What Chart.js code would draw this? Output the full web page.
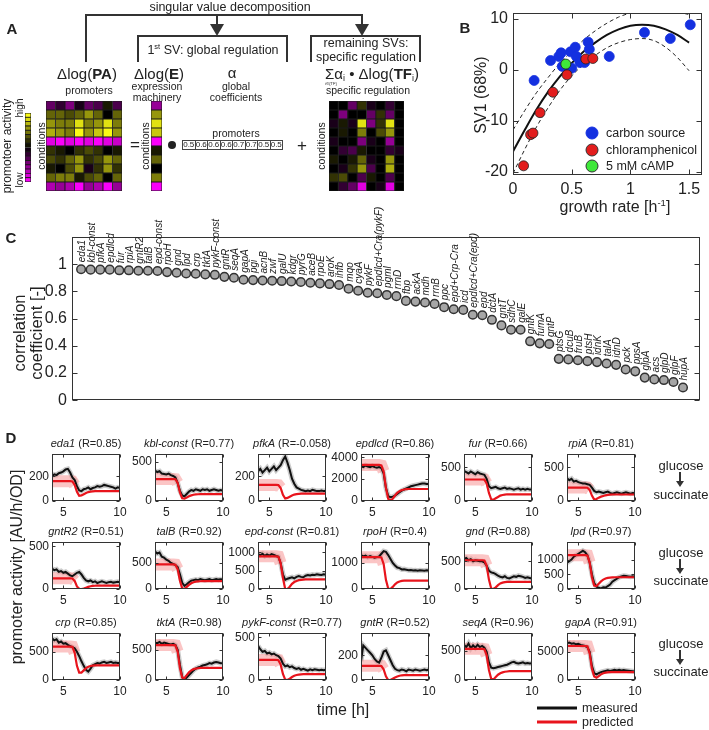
<!DOCTYPE html>
<html><head><meta charset="utf-8">
<script src="https://cdn.jsdelivr.net/npm/chart.js@4.4.0/dist/chart.umd.min.js"></script>
<style>
body{margin:0;background:#fff;}
#root{position:relative;width:709px;height:730px;overflow:hidden;font-family:'Liberation Sans',Arial,Helvetica,sans-serif;color:#222;background:#fff;}
.t{position:absolute;white-space:nowrap;line-height:1;}
canvas{position:absolute;}
sup{font-size:0.6em;vertical-align:0.6em;line-height:0;}
sub{font-size:0.6em;vertical-align:-0.3em;line-height:0;}
</style></head>
<body><div id="root"></div>
<script>
// ---------------- DATA ----------------
// Panel A heatmaps (values -1 = low/magenta ... +1 = high/yellow), rows = conditions
const heatPA = [
 [-0.4,-0.2,-0.5,-0.1,-0.4,-0.3,0.1,-0.3],
 [0.4,0.4,0.3,0.4,0.6,0.4,0.0,0.4],
 [0.6,0.5,0.5,0.9,0.5,0.6,0.9,0.5],
 [0.7,0.6,0.5,1.0,0.6,0.8,1.0,0.6],
 [-0.9,-1.0,-0.9,-1.0,-0.9,-1.0,-0.9,-0.8],
 [0.2,0.1,0.0,0.2,0.3,0.2,0.0,0.1],
 [0.3,0.2,0.4,0.6,0.2,0.3,0.6,0.4],
 [0.1,0.0,0.3,0.6,-0.1,0.2,0.6,0.2],
 [0.4,0.5,0.5,0.1,0.3,0.4,0.0,0.4],
 [-0.7,-0.6,-0.7,-1.0,-0.6,-0.7,-1.0,-0.6]
];
const heatE = [[-0.6],[0.6],[0.9],[0.8],[-1.0],[0.1],[0.4],[0.0],[0.5],[-1.0]];
const heatSpec = [
 [0.0,0.0,-0.4,0.2,-0.1,0.0,-0.2,0.0],
 [0.0,-0.5,0.0,0.0,-0.4,0.2,-0.4,0.0],
 [-0.1,0.1,-0.1,0.9,-0.5,0.2,0.9,0.0],
 [0.0,0.1,0.0,0.5,0.0,0.3,0.6,0.0],
 [-0.1,0.0,0.0,-0.5,-0.1,0.0,-0.6,0.0],
 [0.0,-0.2,-0.3,0.1,0.0,0.0,-0.2,-0.1],
 [0.1,0.0,0.1,0.4,-0.1,0.0,0.6,0.0],
 [0.0,-0.1,0.2,0.6,-0.3,0.0,0.7,0.0],
 [0.2,0.3,0.0,-0.3,0.1,0.0,-0.3,0.0],
 [0.0,-0.2,-0.4,-0.9,0.0,-0.1,-0.9,0.0]
];
const colorbarLevels = [[1.0],[0.87],[0.73],[0.6],[0.47],[0.33],[0.2],[0.07],[-0.07],[-0.2],[-0.33],[-0.47],[-0.6],[-0.73],[-0.87],[-1.0]];
const alphaCoef = ['0.5','0.6','0.6','0.6','0.7','0.7','0.5','0.5'];

// Panel B
const growthCarbon = [0.18,0.32,0.39,0.41,0.42,0.49,0.50,0.53,0.54,0.57,0.61,0.64,0.65,0.82,1.12,1.34,1.51];
const sv1Carbon    = [-2.1,1.8,2.6,3.3,0.65,3.5,0.3,4.4,2.6,1.4,1.4,5.4,4.0,2.6,7.3,6.1,8.8];
const growthChlor  = [0.09,0.15,0.17,0.23,0.34,0.46,0.62,0.68];
const sv1Chlor     = [-18.8,-12.7,-12.4,-8.4,-4.4,-1.0,2.1,2.2];
const growthCamp   = [0.45];
const sv1Camp      = [1.1];
const fitGrowth = [0,0.1,0.2,0.3,0.4,0.5,0.6,0.7,0.8,0.9,1.0,1.1,1.2,1.3,1.4,1.5];
const fitSV1    = [-16.0,-11.8,-7.8,-4.3,-1.3,1.3,3.5,5.3,6.8,7.9,8.6,8.8,8.6,7.9,6.8,5.3];
const fitUpper  = [-11.8,-8.0,-4.5,-1.5,1.3,3.6,5.8,7.6,9.1,10.3,11.1,11.6,11.8,11.7,11.3,10.8];
const fitLower  = [-20.3,-15.6,-11.2,-7.4,-4.0,-1.2,1.0,2.8,4.3,5.3,5.9,6.1,5.7,4.4,2.4,-0.2];
const bXTicks = [0,0.5,1,1.5];
const bYTicks = [-20,-10,0,10];

// Panel C
const genesC = ['eda1','kbl-const','pfkA','epdlcd','fur','rpiA','gntR2','talB','epd-const','rpoH','gnd','lpd','crp','tktA','pykF-const','gntR','seqA','gapA','pgi','acnB','zwf','galU','kdgr','pyrG','aceB','rpoE','aroK','ihfb','mqo','cyaA','pykF','epdlcd+Cra(pykF)','pgml','rrnD','fbp','ackA','mdh','rrnB','ppc','epd+Crp-Cra','icd','epdlcd+Cra(epd)','epd','dctA','gntT','sdhC','galE','gntK','fumA','gntP','ptsG','dcuB','fruB','ptsH','idnK','talA','idnD','pck','ppsA','glpA','acs','glpD','glpF','hupA'];
const corrC = [0.963,0.96,0.96,0.96,0.955,0.955,0.952,0.952,0.95,0.942,0.937,0.932,0.93,0.925,0.922,0.907,0.9,0.886,0.883,0.88,0.878,0.876,0.873,0.869,0.864,0.859,0.854,0.847,0.82,0.805,0.79,0.786,0.774,0.765,0.73,0.725,0.718,0.708,0.684,0.669,0.664,0.628,0.625,0.591,0.55,0.518,0.518,0.433,0.418,0.413,0.304,0.30,0.294,0.287,0.28,0.27,0.26,0.226,0.212,0.166,0.153,0.148,0.134,0.093];
const cYTicks = [0,0.2,0.4,0.6,0.8,1];

// Panel D
const timeH = [4.0,4.2,4.4,4.6,4.8,5.0,5.2,5.4,5.6,5.8,6.0,6.2,6.4,6.6,6.8,7.0,7.2,7.4,7.6,7.8,8.0,8.2,8.4,8.6,8.8,9.0,9.2,9.4,9.6,9.8,10.0];
const dGenes = ['eda1','kbl-const','pfkA','epdlcd','fur','rpiA','gntR2','talB','epd-const','rpoH','gnd','lpd','crp','tktA','pykF-const','gntR','seqA','gapA'];
const dR = ['0.85','0.77','-0.058','0.86','0.66','0.81','0.51','0.92','0.81','0.4','0.88','0.97','0.85','0.98','0.77','0.52','0.96','0.91'];
const dYTicks = [[0,200],[0,500],[0,200],[0,2000,4000],[0,500],[0,500],[0,500],[0,500],[0,500,1000],[0,1000],[0,500],[0,500,1000],[0,500],[0,500],[0,500],[0,200],[0,500],[0,5000]];
const dYMax = [380,600,380,4300,700,700,550,900,1280,1800,850,1600,830,780,550,380,800,8300];
const dXTicks = [5,10];

const mEda1 = [200,215,210,225,230,240,255,260,230,190,170,120,85,80,95,100,110,95,105,110,120,115,120,130,125,120,115,110,100,110,105];
const pEda1 = [160,160,160,160,160,160,160,160,160,158,130,75,42,45,55,65,72,76,78,80,80,80,80,80,80,80,80,80,80,80,80];
const mKbl = [390,370,380,350,345,340,350,330,320,300,230,130,70,60,90,120,140,130,150,140,130,150,140,150,130,140,150,140,130,140,130];
const pKbl = [280,280,280,280,280,280,280,280,280,278,230,110,35,30,45,60,72,80,84,86,88,88,88,88,88,88,88,88,88,88,88];
const mPfkA = [240,260,230,250,270,240,260,280,250,270,290,330,360,310,250,180,140,110,100,90,85,80,85,80,90,85,80,80,85,80,80];
const pPfkA = [130,130,130,130,130,130,130,130,130,128,105,50,20,25,35,45,52,56,58,60,60,60,60,60,60,60,60,60,60,60,60];
const mEpdlcd = [3200,3100,3250,3150,3100,3200,3100,3050,3100,3000,2500,1200,450,350,400,500,650,800,950,1050,1150,1250,1350,1400,1450,1500,1550,1600,1600,1550,1550];
const pEpdlcd = [3300,3300,3300,3300,3300,3300,3300,3300,3300,3250,2700,1200,200,50,200,500,750,900,1000,1050,1080,1100,1100,1100,1100,1100,1100,1100,1100,1100,1100];
const mFur = [450,430,410,440,420,400,430,410,400,390,330,220,190,200,210,190,180,190,200,180,190,180,170,180,190,170,180,170,180,170,170];
const pFur = [320,320,320,320,320,320,320,320,320,318,260,120,25,20,40,60,80,90,95,100,100,100,100,100,100,100,100,100,100,100,100];
const mRpiA = [340,310,330,290,300,280,270,260,260,250,240,200,150,130,140,130,120,130,140,120,110,120,130,120,110,120,130,120,110,120,115];
const pRpiA = [200,200,200,200,200,200,200,200,200,198,165,80,20,30,50,65,75,85,90,95,97,97,97,97,97,97,97,97,97,97,97];
const mGntR2 = [240,220,230,200,210,190,200,180,160,150,170,190,200,170,130,100,90,100,80,90,70,80,90,80,70,80,85,75,80,85,80];
const pGntR2 = [125,125,125,125,125,125,125,125,125,123,95,30,2,0,5,15,25,32,36,38,40,40,40,40,40,40,40,40,40,40,40];
const mTalB = [720,680,700,620,600,560,540,500,480,460,420,280,120,60,90,130,160,170,180,170,190,180,170,180,190,170,180,190,180,185,180];
const pTalB = [470,470,470,470,470,470,470,470,470,465,380,160,10,0,40,80,110,130,140,145,148,150,150,150,150,150,150,150,150,150,150];
const mEpdConst = [950,920,960,900,940,910,950,930,900,880,700,400,250,280,300,320,290,330,350,330,320,360,380,370,390,380,400,390,380,400,390];
const pEpdConst = [890,890,890,890,890,890,890,890,890,880,700,300,0,0,60,140,190,220,240,250,255,260,260,260,260,260,260,260,260,260,260];
const mRpoH = [1300,1250,1280,1220,1260,1230,1200,1220,1250,1350,1450,1420,1300,1150,1000,900,820,800,750,760,740,720,730,710,720,700,720,710,700,720,710];
const pRpoH = [1220,1220,1220,1220,1220,1220,1220,1220,1220,1210,950,350,20,0,80,180,250,290,310,320,320,320,320,320,320,320,320,320,320,320,320];
const mGnd = [540,560,520,540,500,520,510,500,500,480,420,330,300,290,270,240,220,210,230,200,190,210,230,220,240,230,220,200,210,200,190];
const pGnd = [520,520,520,520,520,520,520,520,520,515,420,170,10,0,30,70,100,115,125,130,130,130,130,130,130,130,130,130,130,130,130];
const mLpd = [900,950,1000,1100,1150,1200,1250,1300,1250,1150,900,500,200,80,40,20,60,50,100,150,250,300,350,400,430,450,440,430,420,430,420];
const pLpd = [1150,1150,1150,1150,1150,1150,1150,1150,1150,1140,900,400,120,100,180,260,320,360,380,390,395,400,400,400,400,400,400,400,400,400,400];
const mCrp = [740,700,720,660,680,640,650,620,600,580,560,500,420,330,250,180,150,200,260,280,300,290,310,320,300,310,320,300,310,300,300];
const pCrp = [590,590,590,590,590,590,590,590,590,585,480,250,130,130,170,210,235,248,255,258,260,260,260,260,260,260,260,260,260,260,260];
const mTktA = [620,610,630,600,620,610,600,590,600,580,500,250,50,10,40,80,120,160,190,210,220,240,250,260,280,270,290,300,290,280,280];
const pTktA = [580,580,580,580,580,580,580,580,580,575,470,200,40,30,80,130,160,180,190,195,200,200,200,200,200,200,200,200,200,200,200];
const mPykFConst = [400,360,330,340,310,320,300,310,290,280,250,190,160,170,150,160,140,130,140,120,130,120,110,125,115,125,120,115,120,115,120];
const pPykFConst = [235,235,235,235,235,235,235,235,235,232,180,70,5,0,15,35,50,58,63,66,68,68,68,68,68,68,68,68,68,68,68];
const mGntR = [150,280,260,240,220,200,170,150,140,180,230,240,200,160,120,90,80,75,85,80,70,85,80,75,85,80,75,80,85,80,85];
const pGntR = [115,115,115,115,115,115,115,115,115,113,85,30,0,0,10,20,28,34,38,40,40,40,40,40,40,40,40,40,40,40,40];
const mSeqA = [600,560,620,540,590,550,600,560,580,550,480,300,210,200,210,220,230,240,250,260,280,300,310,290,280,290,300,280,290,280,285];
const pSeqA = [530,530,530,530,530,530,530,530,530,525,420,170,20,10,50,90,115,130,140,145,150,150,150,150,150,150,150,150,150,150,150];
const mGapA = [6500,6600,6400,6500,6300,6400,6200,6100,6000,5800,5000,2500,1200,1000,1200,1400,1500,1600,1700,1600,1700,1800,1700,1800,1700,1750,1700,1650,1600,1550,1500];
const pGapA = [6000,6000,6000,6000,6000,6000,6000,6000,6000,5950,4700,2000,600,400,700,1000,1200,1300,1350,1380,1400,1400,1400,1400,1400,1400,1400,1400,1400,1400,1400];
const measuredD = [mEda1,mKbl,mPfkA,mEpdlcd,mFur,mRpiA,mGntR2,mTalB,mEpdConst,mRpoH,mGnd,mLpd,mCrp,mTktA,mPykFConst,mGntR,mSeqA,mGapA];
const predictedD = [pEda1,pKbl,pPfkA,pEpdlcd,pFur,pRpiA,pGntR2,pTalB,pEpdConst,pRpoH,pGnd,pLpd,pCrp,pTktA,pPykFConst,pGntR,pSeqA,pGapA];

// ---------------- HELPERS ----------------
Chart.defaults.font.family = "'Liberation Sans', Arial, Helvetica, sans-serif";
Chart.defaults.color = '#222';
const root = document.getElementById('root');
const FONT = "'Liberation Sans', Arial, Helvetica, sans-serif";
const NOGRID = {display:false,drawTicks:false};

function mkCanvas(l,t,w,h){const c=document.createElement('canvas');c.width=w;c.height=h;c.style.left=l+'px';c.style.top=t+'px';c.style.width=w+'px';c.style.height=h+'px';root.appendChild(c);return c;}
function txt(html,x,y,size,o={}){
  const d=document.createElement('div');d.className='t';d.innerHTML=html;
  d.style.fontSize=size+'px';d.style.left=x+'px';d.style.top=y+'px';
  let tr='translate(-50%,-50%)';
  if(o.align==='left') tr='translate(0,-50%)';
  if(o.rot) tr+=' rotate(-90deg)';
  d.style.transform=tr;
  if(o.bold) d.style.fontWeight='bold';
  if(o.italic) d.style.fontStyle='italic';
  root.appendChild(d);return d;
}
function cmap(v){v=Math.max(-1,Math.min(1,v));if(v>=0){const c=Math.round(250*v);return `rgb(${c},${c},${Math.round(20*v)})`;}const c=Math.round(250*-v);return `rgb(${c},0,${c})`;}
const setTicks = vals => s => { s.ticks = vals.map(v=>({value:v})); };
function baseOpts(pt,pr,pb){return {animation:false,responsive:false,devicePixelRatio:1,events:[],layout:{padding:{left:0,top:pt,right:pr,bottom:pb}},plugins:{legend:{display:false},tooltip:{enabled:false}}};}

const framePlugin = {
  id:'frame',
  afterDatasetsDraw(chart,args,opts){
    const {ctx,chartArea:a}=chart;
    ctx.save();ctx.strokeStyle=opts.color||'#333';ctx.lineWidth=1;
    const L=Math.round(a.left)+0.5,T=Math.round(a.top)+0.5,R=Math.round(a.right)-0.5,B=Math.round(a.bottom)-0.5;
    ctx.strokeRect(L,T,R-L,B-T);
    const len=opts.len||3;
    ctx.beginPath();
    if(opts.y!==false){const s=chart.scales.y;s.ticks.forEach(t=>{const p=Math.round(s.getPixelForValue(t.value))+0.5;ctx.moveTo(L,p);ctx.lineTo(L+len,p);ctx.moveTo(R,p);ctx.lineTo(R-len,p);});}
    if(opts.x!==false){const s=chart.scales.x;s.ticks.forEach(t=>{const p=Math.round(s.getPixelForValue(t.value))+0.5;ctx.moveTo(p,B);ctx.lineTo(p,B-len);ctx.moveTo(p,T);ctx.lineTo(p,T+len);});}
    ctx.stroke();ctx.restore();
  }
};

function heatmap(rows,l,t,w,h){
  const cv=mkCanvas(l,t,w,h);
  const nR=rows.length;
  const labels=rows[0].map((_,i)=>'c'+i);
  const datasets=[];
  for(let r=nR-1;r>=0;r--){
    datasets.push({data:rows[r].map(()=>1),backgroundColor:rows[r].map(cmap),borderColor:'#1a1a1a',borderWidth:0.8,borderSkipped:false,barPercentage:1,categoryPercentage:1});
  }
  const o=baseOpts(0,0,0);
  o.scales={x:{display:false,stacked:true},y:{display:false,stacked:true,min:0,max:nR}};
  new Chart(cv,{type:'bar',data:{labels,datasets},options:o});
}

// ---------------- PANEL A ----------------
heatmap(heatPA,46,101,76,90);
heatmap(heatE,151,101,11,90);
heatmap(heatSpec,329,101,75,90);
heatmap(colorbarLevels,25,113,6,69);

// ---------------- PANEL B ----------------
{
  const yw=58,pt=14,pr=7,xh=26;
  const L=513,T=13,R=702,B=175;
  const cv=mkCanvas(L-yw,T-pt,yw+(R-L)+pr,pt+(B-T)+xh);
  const o=baseOpts(pt,pr,0);
  o.plugins.frame={len:5};
  o.scales={
    x:{type:'linear',min:0,max:1.61,grid:NOGRID,border:{display:false},ticks:{font:{size:16},padding:5,maxRotation:0,autoSkip:false,callback:v=>String(v)},afterBuildTicks:setTicks(bXTicks),afterFit:s=>{s.height=xh;s.paddingLeft=0;s.paddingRight=0;}},
    y:{min:-20.6,max:11.1,grid:NOGRID,border:{display:false},ticks:{font:{size:16},padding:5,callback:v=>String(v)},afterBuildTicks:setTicks(bYTicks),afterFit:s=>{s.width=yw;s.paddingTop=0;s.paddingBottom=0;}}
  };
  const xy=(xs,ys)=>xs.map((x,i)=>({x,y:ys[i]}));
  new Chart(cv,{type:'scatter',data:{datasets:[
    {data:xy(growthCamp,sv1Camp),backgroundColor:'#3fe83a',borderColor:'#222',borderWidth:0.8,pointRadius:5},
    {data:xy(growthChlor,sv1Chlor),backgroundColor:'#e21d1d',borderColor:'#222',borderWidth:0.8,pointRadius:5},
    {data:xy(growthCarbon,sv1Carbon),backgroundColor:'#1430e0',borderColor:'#1430e0',borderWidth:0.8,pointRadius:5},
    {data:xy(fitGrowth,fitSV1),showLine:true,borderColor:'#111',borderWidth:2,pointRadius:0,cubicInterpolationMode:'monotone',clip:0},
    {data:xy(fitGrowth,fitUpper),showLine:true,borderColor:'#222',borderWidth:1,borderDash:[4,3],pointRadius:0,cubicInterpolationMode:'monotone',clip:0},
    {data:xy(fitGrowth,fitLower),showLine:true,borderColor:'#222',borderWidth:1,borderDash:[4,3],pointRadius:0,cubicInterpolationMode:'monotone',clip:0}
  ]},options:o,plugins:[framePlugin]});
}

// ---------------- PANEL C ----------------
const geneLabelPlugin={id:'geneLabels',afterDatasetsDraw(chart){
  const {ctx}=chart;const xs=chart.scales.x,ys=chart.scales.y;
  ctx.save();ctx.font="italic 10px "+FONT;ctx.fillStyle='#222';ctx.textAlign='left';ctx.textBaseline='middle';
  genesC.forEach((g,i)=>{const px=xs.getPixelForValue(i),py=ys.getPixelForValue(corrC[i]);ctx.save();ctx.translate(px+1.5,py-7);ctx.rotate(-Math.PI/2);ctx.fillText(g,0,0);ctx.restore();});
  ctx.restore();
}};
{
  const yw=72,pt=40,pr=9,pb=5;
  const L=72,T=237,R=700,B=401;
  const cv=mkCanvas(L-yw,T-pt,yw+(R-L)+pr,pt+(B-T)+pb);
  const o=baseOpts(pt,pr,pb);
  o.plugins.frame={len:5,x:false};
  o.scales={
    x:{type:'linear',display:false,min:-0.95,max:64.78},
    y:{min:0,max:1.2,grid:NOGRID,border:{display:false},ticks:{font:{size:16},padding:5,callback:v=>String(v)},afterBuildTicks:setTicks(cYTicks),afterFit:s=>{s.width=yw;s.paddingTop=0;s.paddingBottom=0;}}
  };
  new Chart(cv,{type:'scatter',data:{datasets:[{data:corrC.map((v,i)=>({x:i,y:v})),backgroundColor:'#a6a6a6',borderColor:'#333',borderWidth:1.5,pointRadius:4.3}]},options:o,plugins:[framePlugin,geneLabelPlugin]});
}

// ---------------- PANEL D ----------------
const colLefts=[52,155,258,361,464,567];
const rowTops=[454,542,633];
const boxW=68,boxH=47;
dGenes.forEach((g,k)=>{
  const c=k%6,r=Math.floor(k/6);
  const L=colLefts[c],T=rowTops[r];
  const yw=45,pt=12,pr=12,xh=22;
  const cv=mkCanvas(L-yw,T-pt,yw+boxW+pr,pt+boxH+xh);
  const o=baseOpts(pt,pr,0);
  o.plugins.frame={len:3};
  o.scales={
    x:{type:'linear',min:4,max:10,grid:NOGRID,border:{display:false},ticks:{font:{size:12},padding:4,maxRotation:0,autoSkip:false,callback:v=>String(v)},afterBuildTicks:setTicks(dXTicks),afterFit:s=>{s.height=xh;s.paddingLeft=0;s.paddingRight=0;}},
    y:{min:0,max:dYMax[k],grid:NOGRID,border:{display:false},ticks:{font:{size:12},padding:3,callback:v=>String(v)},afterBuildTicks:setTicks(dYTicks[k]),afterFit:s=>{s.width=yw;s.paddingTop=0;s.paddingBottom=0;}}
  };
  const meas=measuredD[k],pred=predictedD[k];
  const pts=a=>a.map((v,i)=>({x:timeH[i],y:v}));
  const band=pred.map((v,i)=>({x:timeH[i],y:timeH[i]<=6.0?v:null}));
  new Chart(cv,{type:'line',data:{datasets:[
    {data:pts(pred),borderColor:'#e8141c',borderWidth:2.2,pointRadius:0,clip:0},
    {data:pts(meas),borderColor:'#111',borderWidth:2,pointRadius:0,clip:0},
    {data:band,borderColor:'rgba(248,150,150,0.55)',borderWidth:12,pointRadius:0,clip:0,spanGaps:false},
    {data:pts(meas),borderColor:'rgba(170,170,170,0.6)',borderWidth:5,pointRadius:0,clip:0}
  ]},options:o,plugins:[framePlugin]});
  txt(`<i>${g}</i> (R=${dR[k]})`,L+boxW/2,T-11,11);
});

// ---------------- SVG DIAGRAM LINES ----------------
{
  let s=`<svg width="709" height="730" style="position:absolute;left:0;top:0;pointer-events:none" xmlns="http://www.w3.org/2000/svg">
  <g stroke="#333" stroke-width="2" fill="none">
    <path d="M86,62 V15 H362 V26"/>
    <path d="M217,15 V26"/>
    <path d="M138,62 V36 H287 V62"/>
    <path d="M311,62 V36 H420 V62"/>
  </g>
  <g fill="#333"><polygon points="210,24 224,24 217,36"/><polygon points="355,24 369,24 362,36"/></g>
  <circle cx="172" cy="145" r="4" fill="#222"/>
  <g stroke="#333" stroke-width="1">
    <circle cx="592" cy="133" r="6" fill="#1430e0" stroke="#1430e0"/>
    <circle cx="592" cy="150" r="6" fill="#e21d1d"/>
    <circle cx="592" cy="166" r="6" fill="#3fe83a"/>
  </g>
  <line x1="537" y1="708" x2="577" y2="708" stroke="#111" stroke-width="3"/>
  <line x1="537" y1="722" x2="577" y2="722" stroke="#e8141c" stroke-width="3"/>`;
  [[472,486],[559,573],[650,664]].forEach(([a,b])=>{
    s+=`<line x1="680" y1="${a}" x2="680" y2="${b-4}" stroke="#333" stroke-width="2"/><polygon points="676,${b-5} 684,${b-5} 680,${b+1}" fill="#333"/>`;
  });
  s+='</svg>';
  const d=document.createElement('div');d.innerHTML=s;root.appendChild(d);
}

// ---------------- TEXT ----------------
txt('A',12,28,15,{bold:true});
txt('B',465,27,15,{bold:true});
txt('C',11,237,15,{bold:true});
txt('D',11,437,15,{bold:true});

txt('singular value decomposition',230,7,12.5);
txt('1<sup>st</sup> SV: global regulation',213,50,12.5);
txt('remaining SVs:',366,43,12.5);
txt('specific regulation',366,57,12.5);
txt('Δlog(<b>PA</b>)',87,73,15);
txt('promoters',89,90,10.5);
txt('Δlog(<b>E</b>)',159,73,15);
txt('expression',157,86,10.5);
txt('machinery',157,97,10.5);
txt('α',232,72,15);
txt('global',236,86,10.5);
txt('coefficients',236,97,10.5);
txt('Σα<sub>i</sub> • Δlog(<b>TF</b><sub>i</sub>)',372,73,15);
txt('i∈{TF}',331,84,4);
txt('specific regulation',368,90,10.5);
txt('promoters',236,133,10.5);
txt('=',135,144,17);
txt('+',302,145,17);
txt('conditions',41,146,10.5,{rot:true});
txt('conditions',145,146,10.5,{rot:true});
txt('conditions',321,146,10.5,{rot:true});
txt('promotoer activity',7,146,12,{rot:true});
txt('high',20,108,10,{rot:true});
txt('low',20,180,10,{rot:true});
{
  const box=document.createElement('div');
  box.style.cssText='position:absolute;left:182px;top:140px;width:101px;height:10px;display:flex;border:1px solid #444;box-sizing:border-box;';
  alphaCoef.forEach((a,i)=>{const c=document.createElement('div');c.textContent=a;c.style.cssText='flex:1;font-size:8px;line-height:8px;text-align:center;'+(i>0?'border-left:1px solid #444;':'');box.appendChild(c);});
  root.appendChild(box);
}

// Panel B texts
txt('SV1 (68%)',481,95,16,{rot:true});
txt('growth rate [h<sup>-1</sup>]',615,207,16);
txt('carbon source',606,133,12.5,{align:'left'});
txt('chloramphenicol',606,150,12.5,{align:'left'});
txt('5 mM cAMP',606,166,12.5,{align:'left'});

// Panel C texts
txt('correlation',19,333,16.5,{rot:true});
txt('coefficient [-]',36,333,16.5,{rot:true});

// Panel D texts
txt('promoter activity [AU/h/OD]',17,567,16,{rot:true});
txt('time [h]',343,710,16);
txt('measured',582,708,12.5,{align:'left'});
txt('predicted',582,722,12.5,{align:'left'});
[[465,494],[552,580],[643,671]].forEach(([g,s])=>{txt('glucose',681,g,13);txt('succinate',681,s,13);});
</script>
</body></html>
